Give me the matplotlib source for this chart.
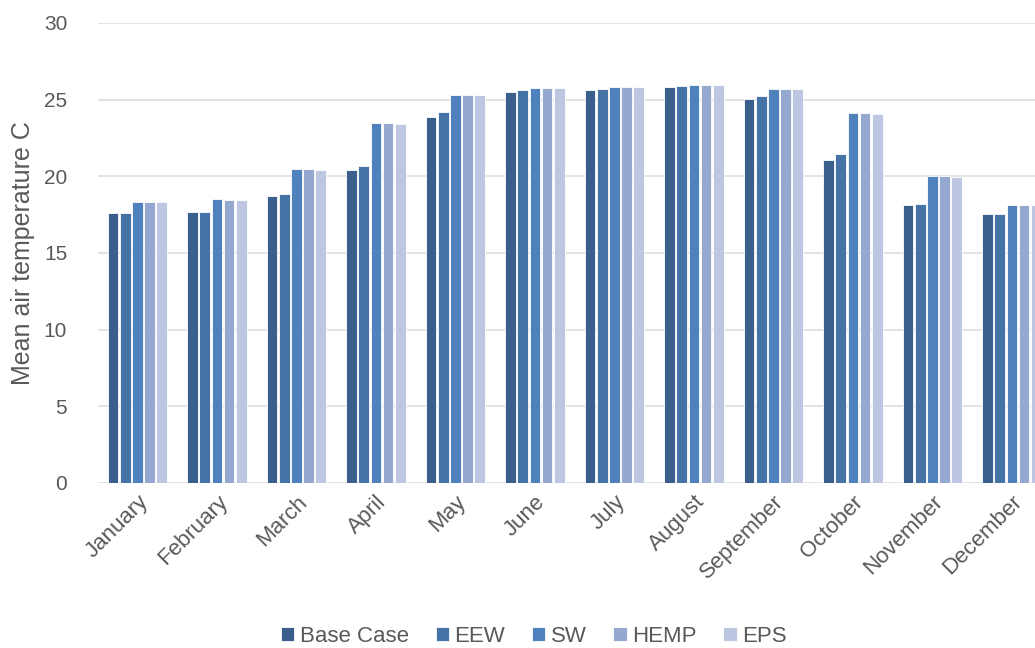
import numpy as np
import matplotlib
matplotlib.use("Agg")
import matplotlib.pyplot as plt

plt.rcParams["font.family"] = ["Liberation Sans", "DejaVu Sans"]

months = ["January", "February", "March", "April", "May", "June", "July",
          "August", "September", "October", "November", "December"]

base_case = [17.6, 17.7, 18.7, 20.4, 23.85, 25.5, 25.6, 25.85, 25.05, 21.05, 18.1, 17.55]
eew = [17.6, 17.7, 18.85, 20.7, 24.2, 25.6, 25.7, 25.9, 25.25, 21.45, 18.2, 17.55]
sw = [18.35, 18.5, 20.45, 23.5, 25.3, 25.75, 25.85, 25.95, 25.7, 24.15, 20.05, 18.1]
hemp = [18.3, 18.45, 20.45, 23.45, 25.3, 25.75, 25.85, 25.95, 25.7, 24.1, 20.0, 18.1]
eps = [18.3, 18.45, 20.4, 23.4, 25.3, 25.75, 25.85, 25.95, 25.7, 24.05, 19.95, 18.1]

series = ["Base Case", "EEW", "SW", "HEMP", "EPS"]
colors = ["#3A5F8C", "#4573A6", "#4F81BD", "#95A9D0", "#BDC7E1"]

txt = "#595959"

fig = plt.figure(figsize=(10.35, 6.48), dpi=100)
# axis runs a little past the right edge, like the clipped original
ax = fig.add_axes([97.7 / 1035, 165 / 648, 954 / 1035, 460 / 648])

x = np.arange(len(months))
step = 0.153
width = 0.135
for i, (name, vals, c) in enumerate(zip(series, [base_case, eew, sw, hemp, eps], colors)):
    ax.bar(x + (i - 2) * step, vals, width, color=c, edgecolor="white",
           linewidth=0.6, label=name, zorder=3)

ax.set_xlim(-0.5, 11.5)
ax.set_ylim(0, 30)
ax.set_yticks(range(0, 31, 5))
ax.grid(axis="y", color="#E0E0E0", linewidth=1.3, zorder=0)
for s in ax.spines.values():
    s.set_visible(False)
ax.tick_params(axis="both", length=0, colors=txt)
ax.tick_params(axis="y", pad=22, labelsize=15)
ax.set_xticks(x)
ax.set_xticklabels(months, rotation=45, ha="right", rotation_mode="anchor",
                   fontsize=16)
ax.tick_params(axis="x", pad=6)
ax.set_ylabel("Mean air temperature C", color=txt, fontsize=18)
ax.yaxis.set_label_coords(-0.066, 0.5)

fig.legend(*ax.get_legend_handles_labels(), loc="center", ncol=5,
           bbox_to_anchor=(534 / 1035, 1 - 636 / 648), frameon=False,
           fontsize=16, labelcolor=txt, handlelength=0.6, handleheight=0.6,
           handletextpad=0.25, columnspacing=1.2, borderaxespad=0)

fig.savefig("out.png", dpi=100)
